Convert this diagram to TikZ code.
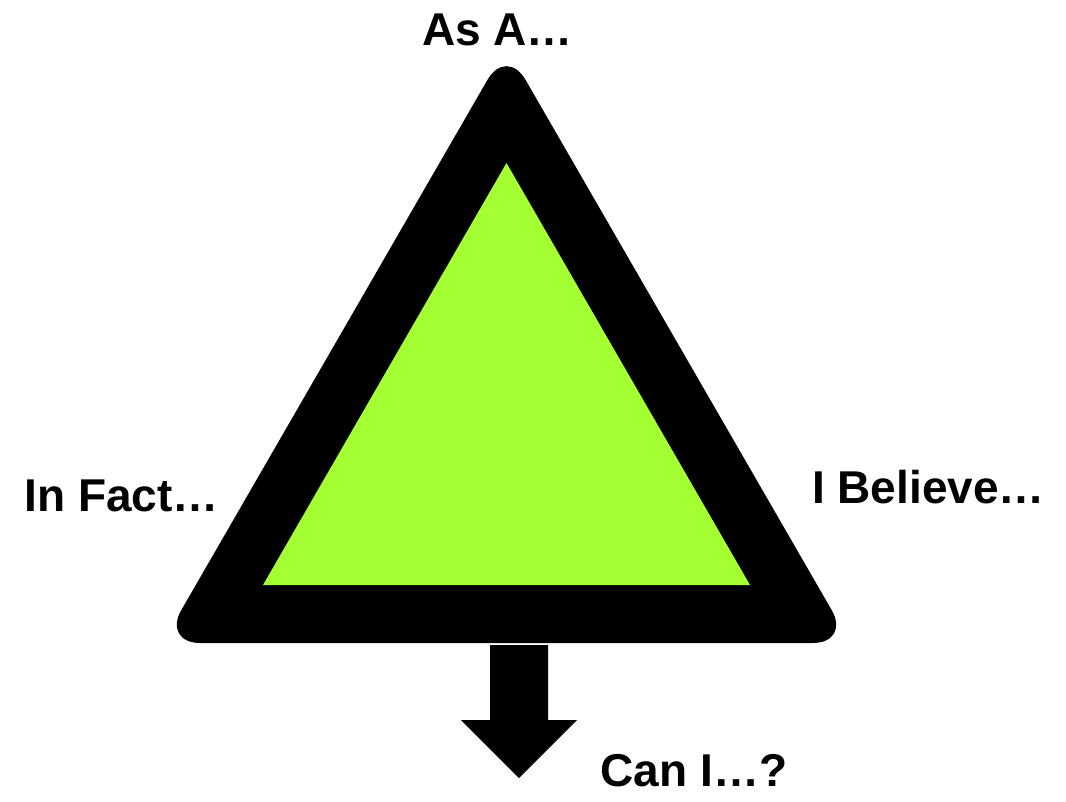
\documentclass[tikz,border=0pt]{standalone}
\usepackage{fontspec}
\setmainfont{Liberation Sans}
\usepackage{xcolor}
\usetikzlibrary{positioning, calc}
\definecolor{limegreen}{RGB}{164,255,51}
\tikzset{
  labeltext/.style={font=\fontsize{34.5}{40}\selectfont\bfseries, inner sep=0pt, anchor=base},
}

\begin{document}
\begin{tikzpicture}[x=0.75pt,y=-0.75pt]
  \useasboundingbox (0,0) rectangle (1066,801);

  % ==========================================
  % Triangle (thick black frame, green inside)
  % ==========================================
  \fill[rounded corners=28.5pt] (506.5,46.9) -- (162.3,643) -- (850.7,643) -- cycle;
  \fill[limegreen] (506.5,163) -- (263,585) -- (750,585) -- cycle;

  % ==========================================
  % Block arrow pointing down
  % ==========================================
  \fill (490,645) -- (548,645) -- (548,720) -- (577,720) -- (519,778) -- (461,720) -- (490,720) -- cycle;

  % Labels
  \node[labeltext] (asa) at (497.5,45) {As A…};
  \node[labeltext] (infact) at (121.5,511) {In Fact…};
  \node[labeltext] (believe) at (928.5,503) {I Believe…};
  \node[labeltext] (cani) at (694,786) {Can I…?};
\end{tikzpicture}
\end{document}
